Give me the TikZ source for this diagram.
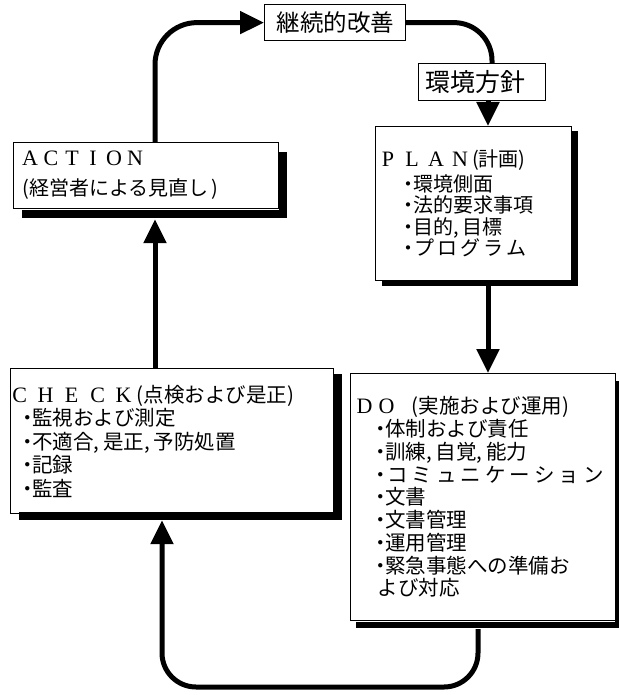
\documentclass[tikz,border=0pt]{standalone}
\usepackage{fontspec}
\setmainfont{Noto Sans CJK JP}
\newfontfamily\latserif{Liberation Serif}
\usetikzlibrary{arrows.meta}
\newcommand\Lt[2]{\makebox[#1][c]{\latserif\fontsize{22}{22}\selectfont #2}}
\newcommand\bu{\makebox[9pt][c]{・}}
\newcommand\Kb[2]{\makebox[#1][c]{#2}}
\begin{document}
\begin{tikzpicture}[x=1pt,y=-1pt,
  box/.style={draw=black, line width=1.2pt, fill=white, anchor=north west, inner ysep=0pt, align=left},
  shadowband/.style={draw=black, line width=#1, line cap=butt},
  conn/.style={line width=5pt},
  arr/.style={line width=5pt, -{Triangle[width=22pt,length=24pt]}}]
\useasboundingbox (0,0) rectangle (618,695);

\node[box, minimum width=141pt, minimum height=36pt, inner xsep=12pt, text width=117pt,
  font=\fontsize{23.5}{23.5}\selectfont] (kz) at (264,4) {継続的改善};
\node[box, minimum width=127pt, minimum height=37pt, inner xsep=7pt, text width=113pt,
  font=\fontsize{25}{25}\selectfont] (kk) at (418,63) {環境方針};

\node[box, minimum width=265pt, minimum height=66pt, inner xsep=9pt, text width=247pt,
  font=\fontsize{20}{30}\selectfont] (act) at (13,142)
  {\hspace*{-3pt}\Lt{21pt}{A}\Lt{21pt}{C}\Lt{21pt}{T}\Lt{21pt}{I}\Lt{21pt}{O}\Lt{21pt}{N}\\
   (経営者による見直し\hspace{3pt})};

\node[box, minimum width=196pt, minimum height=154pt, inner xsep=7pt, text width=182pt,
  font=\fontsize{20}{21.5}\selectfont] (plan) at (375,126)
  {\hspace*{-6.5pt}\Lt{24pt}{P}\Lt{24pt}{L}\Lt{24pt}{A}\Lt{24pt}{N}(計画)\\[3pt]
   \hspace*{21.5pt}\bu 環境側面\\
   \hspace*{21.5pt}\bu 法的要求事項\\
   \hspace*{21.5pt}\bu 目的,\hspace{4pt}目標\\
   \hspace*{21.5pt}\bu \Kb{23pt}{プ}\Kb{23pt}{ロ}\Kb{23pt}{グ}\Kb{23pt}{ラ}\Kb{23pt}{ム}};

\node[box, minimum width=323pt, minimum height=145pt, inner xsep=2pt, text width=319pt,
  font=\fontsize{20.5}{23.5}\selectfont] (chk) at (10,368)
  {\hspace*{-6pt}\Lt{26pt}{C}\Lt{26pt}{H}\Lt{26pt}{E}\Lt{26pt}{C}\Lt{26pt}{K}(点検および是正)\\
   \hspace*{10.5pt}\bu 監視および測定\\
   \hspace*{10.5pt}\bu 不適合,\hspace{4pt}是正,\hspace{4pt}予防処置\\
   \hspace*{10.5pt}\bu 記録\\
   \hspace*{10.5pt}\bu 監査};

\node[box, minimum width=265pt, minimum height=247pt, inner xsep=7pt, text width=251pt,
  font=\fontsize{20.5}{22.75}\selectfont] (do) at (350,373)
  {\hspace*{-4pt}\Lt{22pt}{D}\Lt{22pt}{O}\hspace{14pt}(実施および運用)\\
   \hspace*{18.5pt}\bu 体制および責任\\
   \hspace*{18.5pt}\bu 訓練,\hspace{4pt}自覚,\hspace{4pt}能力\\
   \hspace*{18.5pt}\bu \Kb{24.5pt}{コ}\Kb{24.5pt}{ミ}\Kb{24.5pt}{ュ}\Kb{24.5pt}{ニ}\Kb{24.5pt}{ケ}\Kb{24.5pt}{ー}\Kb{24.5pt}{シ}\Kb{24.5pt}{ョ}\Kb{24.5pt}{ン}\\
   \hspace*{18.5pt}\bu 文書\\
   \hspace*{18.5pt}\bu 文書管理\\
   \hspace*{18.5pt}\bu 運用管理\\
   \hspace*{18.5pt}\bu 緊急事態への準備お\\
   \hspace*{20pt}よび対応};

% drop shadows drawn as dark bands right of and below each main box
\draw[shadowband=8pt] (283,152) -- (283,214) -- (22,214);
\draw[shadowband=6pt] (575,131) -- (575,282.5) -- (382,282.5);
\draw[shadowband=8pt] (338,374) -- (338,516) -- (19,516);
\draw[shadowband=6pt] (618,381) -- (618,624.5) -- (356,624.5);

\coordinate (xL) at (155,0);
\coordinate (xK) at (492,0);
\coordinate (xP) at (488,0);
\coordinate (xD) at (478,0);
\coordinate (xC) at (162,0);
\coordinate (yB) at (0,687);
\coordinate (actS) at ([yshift=-10pt]act.south);
\coordinate (planS) at ([yshift=-5pt]plan.south);
\coordinate (doS) at ([yshift=-8pt]do.south);
\coordinate (chkS) at ([yshift=-6pt]chk.south);

\draw[arr] (chk.north -| xL) -- (actS -| xL);
\draw[arr, rounded corners=42pt] (act.north -| xL) |- (kz.west);
\draw[conn, rounded corners=38pt] (kz.east) -| (kk.north -| xK);
\draw[arr] (kk.south -| xP) -- (plan.north -| xP);
\draw[arr] (planS -| xP) -- (do.north -| xP);
\draw[arr, rounded corners=34pt] (doS -| xD) |- (yB -| xC) -- (chkS -| xC);
\end{tikzpicture}
\end{document}
